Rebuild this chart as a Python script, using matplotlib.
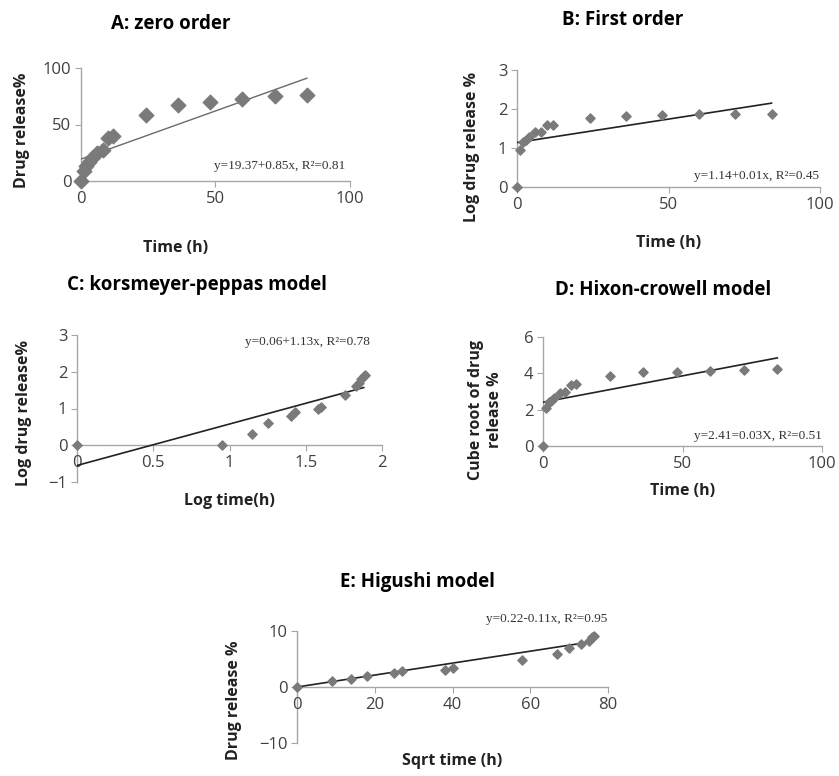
import matplotlib
matplotlib.use("Agg")
import matplotlib.pyplot as plt

W, H = 839, 776

# A: zero order
time_h = [0, 1, 2, 3, 4, 6, 8, 10, 12, 24, 36, 48, 60, 72, 84]
release_pct = [0, 9, 13, 17, 20, 25, 27, 38, 40, 58, 67, 70, 73, 75, 76]
fit_a = [19.37, 91.0]

# B: first order
log_release = [0, 0.95, 1.15, 1.2, 1.27, 1.4, 1.42, 1.58, 1.6, 1.76, 1.82, 1.85, 1.86, 1.87, 1.88]
fit_b = [1.14, 2.15]

# C: korsmeyer-peppas
log_time = [0, 0.95, 1.15, 1.25, 1.4, 1.43, 1.58, 1.6, 1.76, 1.83, 1.85, 1.86, 1.88, 1.89]
log_release_c = [0, 0, 0.3, 0.6, 0.8, 0.9, 1.0, 1.05, 1.38, 1.6, 1.7, 1.8, 1.88, 1.92]
fit_c_x = [0, 1.88]
fit_c_y = [-0.55, 1.57]

# D: Hixon-crowell
cube_root = [0, 2.1, 2.4, 2.5, 2.65, 2.9, 2.95, 3.35, 3.4, 3.85, 4.05, 4.1, 4.15, 4.2, 4.25]
fit_d = [2.41, 4.85]

# E: Higuchi
sqrt_time = [0, 9, 14, 18, 25, 27, 38, 40, 58, 67, 70, 73, 75, 76, 76.5]
release_e = [0, 1.0, 1.4, 1.9, 2.5, 2.8, 3.1, 3.4, 4.8, 5.9, 6.9, 7.6, 8.2, 8.9, 9.1]
fit_e_x = [0, 76]
fit_e_y = [0, 8.1]

plt.rcParams["font.family"] = ["Open Sans", "DejaVu Sans"]

fig = plt.figure(figsize=(W / 100, H / 100), dpi=100)

gray = "#7a7a7a"
tick_col = "#404040"
spine_col = "#a6a6a6"


def px_axes(left, right, top, bottom):
    return fig.add_axes([left / W, 1 - bottom / H, (right - left) / W, (bottom - top) / H])


def style(ax, xlim, ylim, xticks, yticks, zero_spine=False):
    ax.set_xlim(*xlim)
    ax.set_ylim(*ylim)
    ax.set_xticks(xticks)
    ax.set_yticks(yticks)
    for s in ["top", "right"]:
        ax.spines[s].set_visible(False)
    for s in ["left", "bottom"]:
        ax.spines[s].set_color(spine_col)
        ax.spines[s].set_linewidth(1.0)
    if zero_spine:
        ax.spines["bottom"].set_position(("data", 0))
    ax.tick_params(length=4, color=spine_col, labelsize=12, labelcolor=tick_col, pad=3)
    for spine in ax.spines.values():
        spine.set_zorder(0)


def labels(ax, xlabel, ylabel, xl, yl):
    ax.set_xlabel(xlabel, fontsize=11.5, fontweight="bold", color="#222222")
    ax.set_ylabel(ylabel, fontsize=11.5, fontweight="bold", color="#222222", linespacing=1.25)
    ax.xaxis.set_label_coords(*xl)
    ax.yaxis.set_label_coords(*yl)


def title(x, y, s):
    fig.text(x / W, 1 - y / H, s, fontsize=13.5, fontweight="bold", ha="center", va="center")


def eq(x, y, s):
    fig.text(x / W, 1 - y / H, s, fontsize=9.5, family="Liberation Serif", color="#333333",
             ha="center", va="center")


# A
ax = px_axes(81, 350, 68, 181)
style(ax, (0, 100), (0, 100), [0, 50, 100], [0, 50, 100])
ax.scatter(time_h, release_pct, marker="D", s=55, color=gray, zorder=3, clip_on=False)
ax.plot([0, 84], fit_a, color="#6a6a6a", lw=1.0, zorder=2)
labels(ax, "Time (h)", "Drug release%", (0.35, -0.52), (-0.19, 0.45))
title(171, 24, "A: zero order")
eq(280, 166, "y=19.37+0.85x, R²=0.81")

# B
ax = px_axes(517, 820, 70, 187)
style(ax, (0, 100), (0, 3), [0, 50, 100], [0, 1, 2, 3])
ax.scatter(time_h, log_release, marker="D", s=22, color=gray, zorder=3, clip_on=False)
ax.plot([0, 84], fit_b, color="#222222", lw=1.2, zorder=2)
labels(ax, "Time (h)", "Log drug release %", (0.5, -0.41), (-0.122, 0.34))
title(623, 20, "B: First order")
eq(757, 176, "y=1.14+0.01x, R²=0.45")

# C
ax = px_axes(77, 382, 335, 482)
style(ax, (0, 2), (-1, 3), [0, 0.5, 1, 1.5, 2], [-1, 0, 1, 2, 3], zero_spine=True)
ax.set_xticklabels(["0", "0.5", "1", "1.5", "2"])
ax.scatter(log_time, log_release_c, marker="D", s=22, color=gray, zorder=3, clip_on=False)
ax.plot(fit_c_x, fit_c_y, color="#222222", lw=1.2, zorder=2)
labels(ax, "Log time(h)", "Log drug release%", (0.5, -0.075), (-0.148, 0.47))
title(197, 285, "C: korsmeyer-peppas model")
eq(307, 342, "y=0.06+1.13x, R²=0.78")

# D
ax = px_axes(543, 822, 337, 446)
style(ax, (0, 100), (0, 6), [0, 50, 100], [0, 2, 4, 6])
ax.scatter(time_h, cube_root, marker="D", s=22, color=gray, zorder=3, clip_on=False)
ax.plot([0, 84], fit_d, color="#222222", lw=1.2, zorder=2)
labels(ax, "Time (h)", "Cube root of drug\nrelease %", (0.5, -0.34), (-0.143, 0.33))
title(663, 290, "D: Hixon-crowell model")
eq(758, 436, "y=2.41=0.03X, R²=0.51")

# E
ax = px_axes(297, 608, 631, 743)
style(ax, (0, 80), (-10, 10), [0, 20, 40, 60, 80], [-10, 0, 10], zero_spine=True)
ax.scatter(sqrt_time, release_e, marker="D", s=22, color=gray, zorder=3, clip_on=False)
ax.plot(fit_e_x, fit_e_y, color="#222222", lw=1.2, zorder=2)
labels(ax, "Sqrt time (h)", "Drug release %", (0.5, -0.09), (-0.177, 0.38))
title(418, 582, "E: Higushi model")
eq(547, 619, "y=0.22-0.11x, R²=0.95")

fig.savefig("out.png", dpi=100, facecolor="white")
